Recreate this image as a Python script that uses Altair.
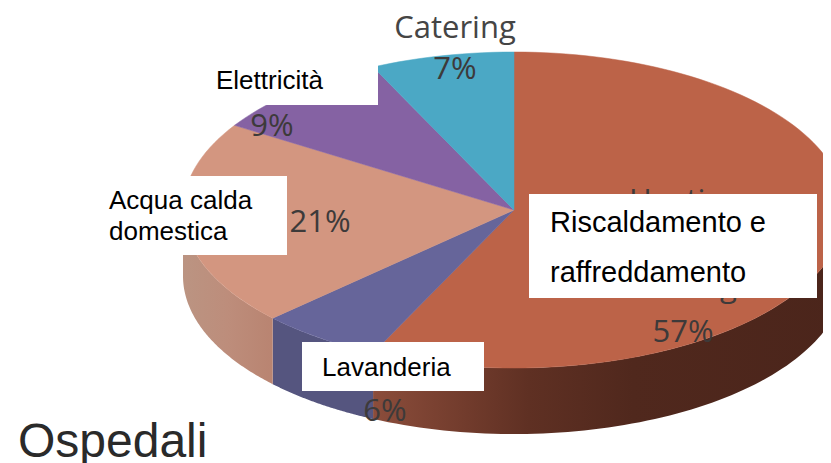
import math
import altair as alt
import pandas as pd

categories = ["Heating and cooling", "Laundry", "Hot water", "Electricity", "Catering"]
shares = [57, 6, 21, 9, 7]
top_colors = ["#bc6348", "#66659a", "#d39680", "#8562a3", "#4ba8c5"]

CX, CY, A, B, DEPTH = 514, 210, 331, 158, 66
W, H = 815, 455
BOTTOM = 8 + H

x_scale = alt.Scale(domain=[8, 8 + W], range=[0, W], nice=False, zero=False)
y_scale = alt.Scale(domain=[BOTTOM, 8], range=[H, 0], nice=False, zero=False)
X = alt.X("x:Q", scale=x_scale, axis=None)
Y = alt.Y("y:Q", scale=y_scale, axis=None)


def pt(deg):
    r = math.radians(deg)
    return CX + A * math.sin(r), CY - B * math.cos(r)


layers = []


def wall(a0, a1, stops):
    rows = []
    n = 80
    for i in range(n + 1):
        x, y = pt(a0 + (a1 - a0) * i / n)
        rows.append({"x": x, "y": y, "y2": y + DEPTH})
    grad = alt.Gradient(
        gradient="linear", x1=0, y1=0, x2=1, y2=0,
        stops=[alt.GradientStop(offset=o, color=c) for o, c in stops],
    )
    return (
        alt.Chart(pd.DataFrame(rows))
        .mark_area(fill=grad, clip=True, strokeWidth=0)
        .encode(x=X, y=Y, y2="y2:Q")
    )


edges = [0]
for s in shares:
    edges.append(edges[-1] + s * 3.6)

# side walls of the three front slices
layers.append(wall(edges[1], 90, [(0, "#8b4d3b"), (0.2, "#713b2c"), (0.33, "#5f3023"), (0.55, "#50281d"), (1, "#4b251b")]))
layers.append(wall(edges[2], edges[1], [(0, "#55557f"), (1, "#55557f")]))
layers.append(wall(270, edges[2], [(0, "#bb9482"), (0.5, "#bd8d7b"), (1, "#b98471")]))

# top faces
for i, s in enumerate(shares):
    a0, a1 = edges[i], edges[i + 1]
    rows = [{"x": CX, "y": CY, "o": 0}]
    n = max(4, int(s * 2))
    for k in range(n + 1):
        x, y = pt(a0 + (a1 - a0) * k / n)
        rows.append({"x": x, "y": y, "o": k + 1})
    rows.append({"x": CX, "y": CY, "o": n + 2})
    layers.append(
        alt.Chart(pd.DataFrame(rows))
        .mark_line(fill=top_colors[i], stroke=top_colors[i], strokeWidth=0.5, clip=True)
        .encode(x=X, y=Y, order=alt.Order("o:Q"))
    )


def text(s, px, py, size, font, color, align="left"):
    return alt.Chart(pd.DataFrame({"t": [s]})).mark_text(
        font=font, fontSize=size, color=color, align=align, baseline="alphabetic"
    ).encode(x=alt.value(px - 8), y=alt.value(py - 8), text="t:N")


def box(x0, x1, y0, y1):
    return alt.Chart(pd.DataFrame({"a": [0]})).mark_rect(color="white", opacity=1).encode(
        x=alt.value(x0 - 8), x2=alt.value(x1 - 8), y=alt.value(y0 - 8), y2=alt.value(y1 - 8)
    )


DARK = "#3d3a3a"
OS = "Open Sans"
layers += [
    text("Catering", 455, 38, 31, OS, "#454545", "center"),
    text("7%", 455, 79, 31, OS, DARK, "center"),
    text("9%", 272, 136, 31, OS, DARK, "center"),
    text("21%", 320, 232, 31, OS, DARK, "center"),
    text("Heating", 685, 211, 31, OS, DARK, "center"),
    text("cooling", 685, 297, 31, OS, DARK, "center"),
    text("57%", 683, 342, 31, OS, DARK, "center"),
    text("6%", 385, 421, 31, OS, DARK, "center"),
]

layers += [
    box(200, 378, 55, 105),
    box(100, 287, 176, 255),
    box(529, 817, 194, 298),
    box(302, 484, 342, 391),
]

AR = "Liberation Sans"
layers += [
    text("Elettricità", 216, 89, 26, AR, "#000000"),
    text("Acqua calda", 109, 209, 26, AR, "#000000"),
    text("domestica", 109, 240, 26, AR, "#000000"),
    text("Riscaldamento e", 550, 232, 29, AR, "#000000"),
    text("raffreddamento", 550, 282, 29, AR, "#000000"),
    text("Lavanderia", 322, 376, 26, AR, "#000000"),
    text("Ospedali", 18, 457, 48, AR, "#2a2a2a"),
]

chart = (
    alt.layer(*layers)
    .properties(width=W, height=H, padding=0, autosize=alt.AutoSizeParams(type="none"), background="white")
    .configure_view(stroke=None)
)
chart.save("out.html", embed_options={"renderer": "svg", "actions": False})
